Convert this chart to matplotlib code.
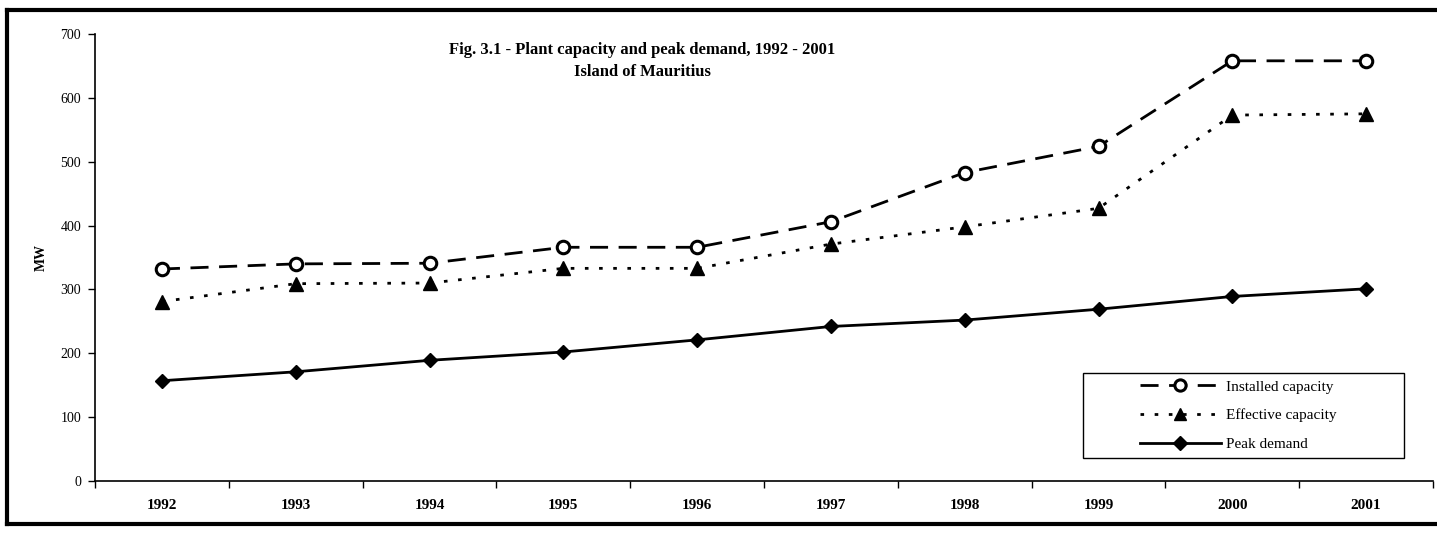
import matplotlib
matplotlib.use("Agg")
import matplotlib.pyplot as plt
from matplotlib.lines import Line2D
from matplotlib.patches import Rectangle

years = ["1992", "1993", "1994", "1995", "1996", "1997", "1998", "1999", "2000", "2001"]
installed = [332, 340, 341, 366, 366, 406, 483, 524, 658, 658]
effective = [281, 309, 310, 333, 333, 371, 398, 427, 573, 575]
peak = [157, 171, 189, 202, 221, 242, 252, 269, 289, 301]
yticks = [0, 100, 200, 300, 400, 500, 600, 700]

plt.rcParams['font.family'] = ['Liberation Serif', 'DejaVu Serif']

W, H = 1437, 538
fig = plt.figure(figsize=(W / 100, H / 100), dpi=100)
ax = fig.add_axes([95 / W, (H - 481) / H, (1433 - 95) / W, (481 - 34) / H])

x = list(range(len(years)))
ax.plot(x, installed, color='black', lw=2, linestyle=(0, (6.5, 3.8)),
        marker='o', markersize=9, markerfacecolor='white', markeredgecolor='black',
        markeredgewidth=2.2, label='Installed capacity')
ax.plot(x, effective, color='black', lw=2, linestyle=(0, (1.3, 3.8)),
        marker='^', markersize=10, markerfacecolor='black', markeredgecolor='black',
        label='Effective capacity')
ax.plot(x, peak, color='black', lw=2, linestyle='-',
        marker='D', markersize=7.5, markerfacecolor='black', markeredgecolor='black',
        label='Peak demand')

ax.set_xlim(-0.5, len(years) - 0.5)
ax.set_ylim(0, 700)
ax.set_yticks(yticks)
ax.set_yticklabels([str(v) for v in yticks], fontsize=10)
ax.set_xticks(x)
ax.set_xticklabels(years, fontsize=11, fontweight='bold')
ax.set_xticks([i - 0.5 for i in range(len(years) + 1)], minor=True)
ax.tick_params(axis='x', which='major', length=0, pad=13)
ax.tick_params(axis='x', which='minor', length=5, width=1, direction='out')
ax.tick_params(axis='y', length=5, width=1, direction='out', pad=5)
for s in ['top', 'right']:
    ax.spines[s].set_visible(False)
for s in ['left', 'bottom']:
    ax.spines[s].set_linewidth(1.2)

ax.set_ylabel('MW', fontsize=10, fontweight='bold', labelpad=9)

fig.text(642 / W, 1 - 50 / H, 'Fig. 3.1 - Plant capacity and peak demand, 1992 - 2001',
         ha='center', va='center', fontsize=12, fontweight='bold')
fig.text(642 / W, 1 - 72 / H, 'Island of Mauritius',
         ha='center', va='center', fontsize=12, fontweight='bold')

leg = fig.legend(*ax.get_legend_handles_labels(), loc='upper left',
                 bbox_to_anchor=(1140 / W, 1 - 380 / H),
                 frameon=False, fontsize=11, handlelength=5.3,
                 handletextpad=0.35, labelspacing=0.98, borderpad=0, borderaxespad=0,
                 markerscale=0.9)

# legend frame
fig.add_artist(Rectangle((1083 / W, 1 - 458 / H), (1404 - 1083) / W, (458 - 373) / H,
                         transform=fig.transFigure, fill=False, edgecolor='black', lw=1))

# figure border (left, top, bottom)
fig.add_artist(Line2D([7 / W, 7 / W], [1 - 10 / H, 1 - 524 / H], color='black', lw=3, transform=fig.transFigure))
fig.add_artist(Line2D([7 / W, 1.0], [1 - 10 / H, 1 - 10 / H], color='black', lw=3, transform=fig.transFigure))
fig.add_artist(Line2D([7 / W, 1.0], [1 - 524 / H, 1 - 524 / H], color='black', lw=3, transform=fig.transFigure))

fig.savefig('out.png', dpi=100)
